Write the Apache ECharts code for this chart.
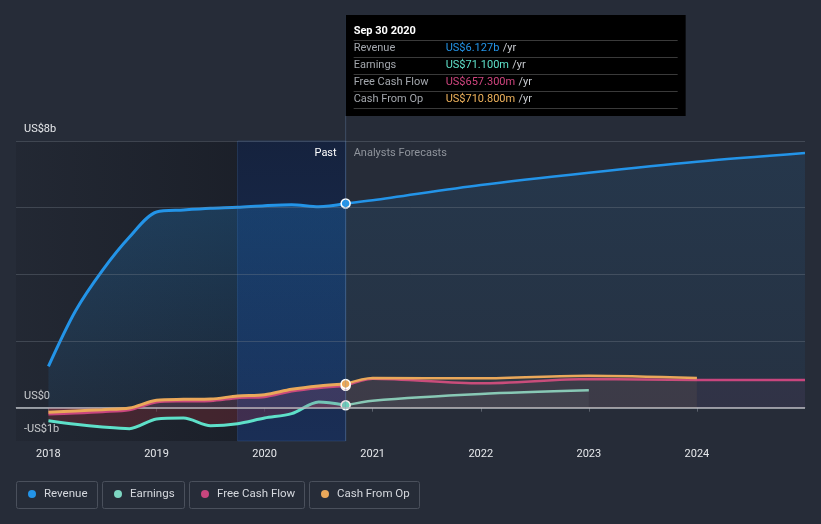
<!DOCTYPE html>
<html><head><meta charset="utf-8">
<script src="https://cdn.jsdelivr.net/npm/echarts@6/dist/echarts.min.js"></script>
<style>html,body{margin:0;padding:0;background:#262c38;}#c{width:821px;height:524px;}</style>
</head><body><div id="c"></div>
<script>
// ---- data (values in US$ billions, x in decimal years) ----
const yearTicks = [2018, 2019, 2020, 2021, 2022, 2023, 2024];
const yLabelValues = [-1, 0, 8];
const yLabelTexts = ['-US$1b', 'US$0', 'US$8b'];
const gridValues = [2, 4, 6, 8];
const nowX = 2020.75;

const revenuePast = [[2018,1.24],[2018.25,2.9],[2018.5,4.12],[2018.75,5.12],[2019,5.87],[2019.25,5.93],[2019.5,5.98],[2019.75,6.01],[2020,6.06],[2020.25,6.09],[2020.5,6.03],[2020.75,6.127]];
const revenueFcst = [[2020.75,6.127],[2021,6.22],[2022,6.68],[2023,7.05],[2024,7.38],[2025,7.64]];
const earningsPast = [[2018,-0.39],[2018.25,-0.5],[2018.5,-0.58],[2018.75,-0.63],[2019,-0.34],[2019.25,-0.31],[2019.5,-0.54],[2019.75,-0.48],[2020,-0.31],[2020.25,-0.18],[2020.5,0.17],[2020.75,0.0711]];
const earningsFcst = [[2020.75,0.0711],[2021,0.21],[2022,0.41],[2023,0.52]];
const fcfPast = [[2018,-0.19],[2018.25,-0.16],[2018.5,-0.12],[2018.75,-0.06],[2019,0.17],[2019.25,0.2],[2019.5,0.21],[2019.75,0.3],[2020,0.33],[2020.25,0.5],[2020.5,0.6],[2020.75,0.6573]];
const fcfFcst = [[2020.75,0.6573],[2021,0.87],[2022,0.73],[2023,0.86],[2024,0.83],[2025,0.83]];
const cfoPast = [[2018,-0.14],[2018.25,-0.1],[2018.5,-0.06],[2018.75,-0.01],[2019,0.22],[2019.25,0.25],[2019.5,0.26],[2019.75,0.35],[2020,0.39],[2020.25,0.55],[2020.5,0.65],[2020.75,0.7108]];
const cfoFcst = [[2020.75,0.7108],[2021,0.89],[2022,0.88],[2023,0.96],[2024,0.89]];

const names = ['Revenue', 'Earnings', 'Free Cash Flow', 'Cash From Op'];
const colors = ['#2394e8', '#5ee0c9', '#c8467e', '#eaa85a'];
const tipValues = ['US$6.127b', 'US$71.100m', 'US$657.300m', 'US$710.800m'];
const tipColors = ['#2394e8', '#5ee0c9', '#d0457f', '#f0b35c'];
const tipDate = 'Sep 30 2020';

const FONT = 'Roboto, "Noto Sans", sans-serif';

function grad(a, b) {
  return {type:'linear', x:0, y:0, x2:0, y2:1, colorStops:[{offset:0, color:a},{offset:1, color:b}]};
}
function withMarker(data, color) {
  return data.map((p, i) => i === data.length - 1
    ? {value:p, symbol:'circle', symbolSize:9, itemStyle:{color:color, borderColor:'#ffffff', borderWidth:1.5}}
    : p);
}
function lineSeries(name, data, color, width, area, z, opacity) {
  return {
    name, type:'line', data, smooth:0.3, symbol:'circle', symbolSize:0, showSymbol:true,
    lineStyle:{color, width, opacity: opacity == null ? 1 : opacity},
    itemStyle:{color},
    areaStyle: area ? {color: area} : undefined,
    z, silent:true
  };
}

const chart = echarts.init(document.getElementById('c'));

const series = [
  // background bands + grid lines
  {
    name:'_bands', type:'line', data:[], z:0, silent:true,
    markArea:{silent:true, data:[
      [{xAxis:2017.7, itemStyle:{color:{type:'linear',x:0,y:0,x2:1,y2:0,colorStops:[{offset:0,color:'rgba(10,12,18,0.12)'},{offset:1,color:'rgba(10,12,18,0.38)'}]}}},{xAxis:2019.75}],
      [{xAxis:2019.75, itemStyle:{color:grad('rgba(10,28,66,0.6)','rgba(16,48,110,0.55)'), borderColor:'rgba(60,100,160,0.3)', borderWidth:1}},{xAxis:nowX}]
    ]}
  },
  lineSeries('Revenue', revenueFcst, colors[0], 2.5, grad('rgba(33,150,243,0.15)','rgba(33,150,243,0.08)'), 2),
  lineSeries('Revenue', withMarker(revenuePast, colors[0]), colors[0], 3, grad('rgba(33,150,243,0.33)','rgba(33,150,243,0.1)'), 3),
  lineSeries('Earnings', earningsFcst, '#7dd6c2', 2.5, 'rgba(140,200,200,0.10)', 4),
  lineSeries('Earnings', withMarker(earningsPast, colors[1]), colors[1], 3, 'rgba(210,50,60,0.3)', 4),
  lineSeries('Free Cash Flow', fcfFcst, colors[2], 2.5, 'rgba(200,70,130,0.10)', 5),
  lineSeries('Free Cash Flow', withMarker(fcfPast, colors[2]), colors[2], 3, 'rgba(200,60,110,0.22)', 5),
  lineSeries('Cash From Op', cfoFcst, colors[3], 2.5, 'rgba(233,168,90,0.10)', 6),
  lineSeries('Cash From Op', withMarker(cfoPast, colors[3]), colors[3], 3, 'rgba(233,168,90,0.06)', 6),
  {
    name:'_grid', type:'line', data:[], z:8, silent:true,
    markLine:{silent:true, symbol:'none', label:{show:false}, data:[
      ...gridValues.map(v => ({yAxis:v, lineStyle:{color:'rgba(120,128,140,0.35)', width:1, type:'solid'}})),
      {yAxis:0, lineStyle:{color:'#b9bcc2', width:1.5, type:'solid'}}
    ]}
  }
];

const legends = names.map((n, i) => ({
  data:[n], left:[28, 114, 201, 321][i], top:488, padding:0,
  icon:'circle', itemWidth:8, itemHeight:8, selectedMode:false,
  textStyle:{color:'#d5d8de', fontSize:11.5, fontFamily:FONT, padding:[0,0,0,3]}
}));

chart.setOption({
  backgroundColor:'#262c38',
  animation:false,
  textStyle:{fontFamily:FONT},
  grid:{left:16, right:16, top:141, bottom:83},
  legend: legends,
  xAxis:{
    type:'value', min:2017.7, max:2025,
    axisLine:{lineStyle:{color:'#4b515c', width:1}},
    axisTick:{customValues:yearTicks, length:4, lineStyle:{color:'#5a606b'}},
    axisLabel:{customValues:yearTicks, color:'#e6e8eb', fontSize:11, margin:8, formatter:v => String(v)},
    splitLine:{show:false}
  },
  yAxis:{
    type:'value', min:-1, max:8,
    axisLine:{show:false}, axisTick:{show:false}, splitLine:{show:false},
    axisLabel:{customValues:yLabelValues, showMinLabel:true, showMaxLabel:true, inside:true, margin:8,
      verticalAlign:'bottom', padding:[0,0,6,0], color:'#e6e8eb', fontSize:11,
      formatter:v => yLabelTexts[yLabelValues.indexOf(v)]}
  },
  series
});

const px = chart.convertToPixel({xAxisIndex:0}, nowX);
const top0 = 15, rowY = [48.5, 65.5, 82.5, 99.5], sepY = [40.5, 57.5, 74.5, 91.5, 108.5];
const g = [
  {type:'line', silent:true, z:50, shape:{x1:px, y1:top0, x2:px, y2:441}, style:{stroke:'rgba(110,140,180,0.35)', lineWidth:1}},
  {type:'text', silent:true, z:60, style:{text:'Past', x:px-9, y:153, fill:'#ffffff', font:'11px '+FONT, textAlign:'right', textVerticalAlign:'middle'}},
  {type:'text', silent:true, z:60, style:{text:'Analysts Forecasts', x:px+8, y:153, fill:'#8f949c', font:'11px '+FONT, textAlign:'left', textVerticalAlign:'middle'}},
  {type:'rect', silent:true, z:70, shape:{x:px, y:top0, width:340, height:101}, style:{fill:'#000000'}},
  {type:'text', silent:true, z:71, style:{text:tipDate, x:px+8, y:31, fill:'#ffffff', font:'bold 11px '+FONT, textVerticalAlign:'middle'}}
];
sepY.forEach(y => g.push({type:'line', silent:true, z:71, shape:{x1:px+8, y1:y, x2:px+332, y2:y}, style:{stroke:'#3a3a3a', lineWidth:1}}));
names.forEach((n, i) => {
  g.push({type:'text', silent:true, z:72, style:{text:n, x:px+8, y:rowY[i], fill:'#a3a7ad', font:'11px '+FONT, textVerticalAlign:'middle'}});
  g.push({type:'text', silent:true, z:72, style:{text:'{v|'+tipValues[i]+'} {u|/yr}', x:px+100, y:rowY[i], textVerticalAlign:'middle',
    rich:{v:{fill:tipColors[i], fontSize:11, fontFamily:FONT}, u:{fill:'#c9ccd1', fontSize:11, fontFamily:FONT}}}});
});
[[16,81],[102,82],[189,115],[309,110]].forEach(([x, w]) => g.push({type:'rect', silent:true, z:1,
  shape:{x:x+0.5, y:481.5, width:w, height:27, r:2}, style:{fill:'none', stroke:'#4a505c', lineWidth:1}}));
chart.setOption({graphic:g});
</script></body></html>
